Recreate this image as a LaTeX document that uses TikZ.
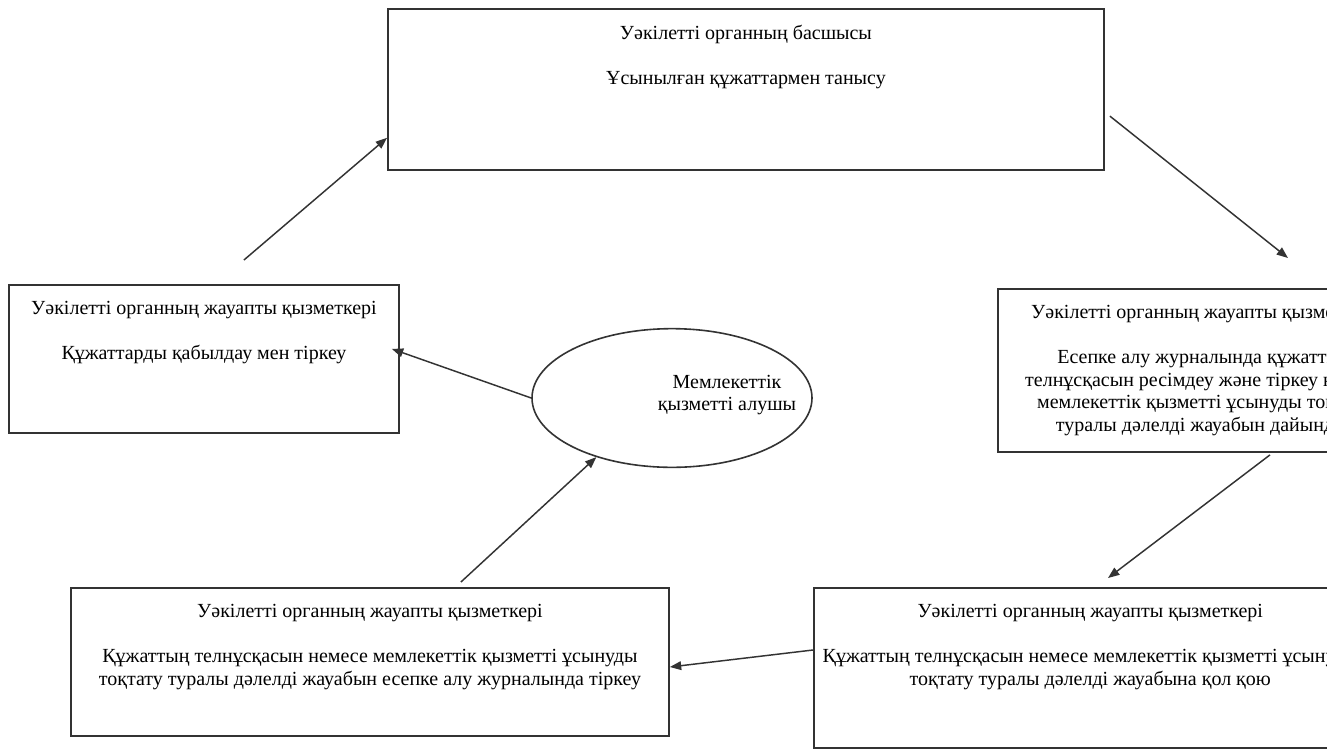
\documentclass[tikz,border=0pt]{standalone}
\usepackage{fontspec}
\setmainfont{Liberation Serif}
\usepackage{tikz}
\usetikzlibrary{positioning,arrows.meta,shapes.geometric}

\begin{document}
\begin{tikzpicture}[x=0.75pt,y=-0.75pt,
	box/.style={draw=black!80, line width=1.4pt, anchor=north west, inner sep=0pt},
	txt/.style={anchor=north, align=center, inner sep=0pt, font=\fontsize{15}{17}\selectfont},
	arr/.style={draw=black!80, line width=1.1pt, -{Triangle[length=8.5pt,width=6.5pt]}}]
\useasboundingbox (0,0) rectangle (1327,750);
\fill[white] (0,0) rectangle (1327,750);
\clip (0,0) rectangle (1327,750);

\node[box, minimum width=537pt, minimum height=120.75pt] (head) at (387,8) {};
\node[box, minimum width=292.5pt, minimum height=111pt] (recv) at (8,284) {};
\node[box, minimum width=309pt, minimum height=122.25pt] (prep) at (997,288) {};
\node[box, minimum width=448.5pt, minimum height=111pt] (reg) at (70,587) {};
\node[box, minimum width=430.5pt, minimum height=120pt] (sign) at (813,587) {};
\node[draw=black!80, line width=1.2pt, ellipse, minimum width=210pt, minimum height=104pt, inner sep=0pt] (user) at (672,398) {};

		\node[txt, yshift=-12.5pt] (headtxt) at (head.north) {Уәкілетті органның басшысы\\[17pt] Ұсынылған құжаттармен танысу};
		\node[txt, yshift=-12.5pt] (recvtxt) at (recv.north) {Уәкілетті органның жауапты қызметкері\\[17pt] Құжаттарды қабылдау мен тіркеу};
		\node[txt, yshift=-12.5pt] (preptxt) at (prep.north) {Уәкілетті органның жауапты қызметкері\\[17pt] Есепке алу журналында құжаттың\\ телнұсқасын ресімдеу және тіркеу немесе\\ мемлекеттік қызметті ұсынуды тоқтату\\ туралы дәлелді жауабын дайындау};
		\node[txt, yshift=-12.5pt] (regtxt) at (reg.north) {Уәкілетті органның жауапты қызметкері\\[17pt] Құжаттың телнұсқасын немесе мемлекеттік қызметті ұсынуды\\ тоқтату туралы дәлелді жауабын есепке алу журналында тіркеу};
		\node[txt, yshift=-12.5pt, xshift=-8pt] (signtxt) at (sign.north) {Уәкілетті органның жауапты қызметкері\\[17pt] Құжаттың телнұсқасын немесе мемлекеттік қызметті ұсынуды\\ тоқтату туралы дәлелді жауабына қол қою};
		\node[txt, anchor=center] (usertxt) at (727,395) {Мемлекеттік\\ қызметті алушы};

\draw[arr] ([xshift=30pt,yshift=18pt]recv.north) -- ([yshift=24.75pt]head.south west);
\draw[arr] ([xshift=3.75pt,yshift=-20pt]head.east) -- ([xshift=218.25pt,yshift=22.5pt]prep.north west);
\draw[arr] ([xshift=204.75pt,yshift=-1.5pt]prep.south west) -- ([xshift=221.25pt,yshift=6.75pt]sign.north west);
\draw[arr] ([yshift=-47.25pt]sign.north west) -- ([yshift=-60pt]reg.north east);
\draw[arr] ([xshift=68.25pt,yshift=3.75pt]reg.north) -- (user.218);
\draw[arr] (user.west) -- ([xshift=-6pt,yshift=7.5pt]recv.east);
\end{tikzpicture}
\end{document}
